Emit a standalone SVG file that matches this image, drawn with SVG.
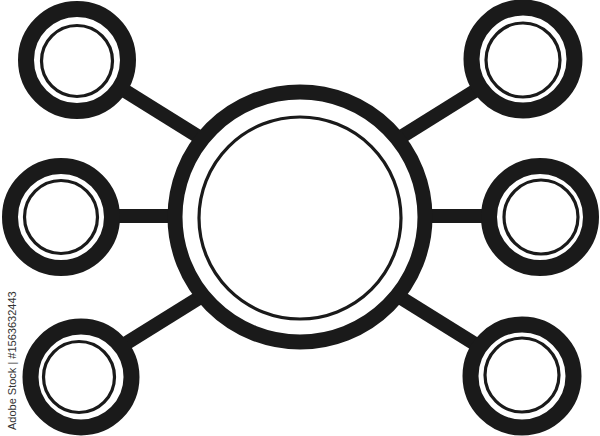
<svg xmlns="http://www.w3.org/2000/svg" width="600" height="436" viewBox="0 0 600 436">
<style>
.conn{stroke:#1a1a1a;stroke-width:14;stroke-linecap:butt;fill:none}
.ring{fill:#fff;stroke:#1a1a1a;stroke-width:16}
.thin{fill:#fff;stroke:#1a1a1a;stroke-width:3.2}
.bigring{fill:#fff;stroke:#1a1a1a;stroke-width:15}
.wm{font-family:"Liberation Sans",Arial,sans-serif;font-size:11px;fill:#333}
</style>
<rect width="600" height="436" fill="#fff"/>
<g id="connectors">
<line class="conn" x1="77" y1="61" x2="300" y2="200"/>
<line class="conn" x1="523" y1="61" x2="300" y2="200"/>
<line class="conn" x1="61" y1="216" x2="539" y2="216"/>
<line class="conn" x1="80" y1="372" x2="300" y2="235"/>
<line class="conn" x1="520" y1="372" x2="300" y2="235"/>
</g>
<g id="center">
<circle class="bigring" cx="300" cy="217" r="125"/>
<circle class="thin" cx="300" cy="218" r="101" stroke-width="3.5"/>
</g>
<g id="top-left">
<circle class="ring" cx="77" cy="60" r="51"/>
<circle class="thin" cx="77" cy="61" r="35.5"/>
</g>
<g id="middle-left">
<circle class="ring" cx="61" cy="217" r="51"/>
<circle class="thin" cx="61" cy="217" r="36.5"/>
</g>
<g id="bottom-left">
<circle class="ring" cx="81" cy="377" r="50.5"/>
<circle class="thin" cx="79" cy="377" r="35.5"/>
</g>
<g id="top-right">
<circle class="ring" cx="523" cy="59" r="51.5"/>
<circle class="thin" cx="523" cy="60" r="37"/>
</g>
<g id="middle-right">
<circle class="ring" cx="540" cy="217" r="51"/>
<circle class="thin" cx="541" cy="217" r="37"/>
</g>
<g id="bottom-right">
<circle class="ring" cx="522" cy="376" r="51.5"/>
<circle class="thin" cx="522" cy="375" r="37"/>
</g>
<text class="wm" transform="translate(16,430) rotate(-90)">Adobe Stock | #1563632443</text>
</svg>
